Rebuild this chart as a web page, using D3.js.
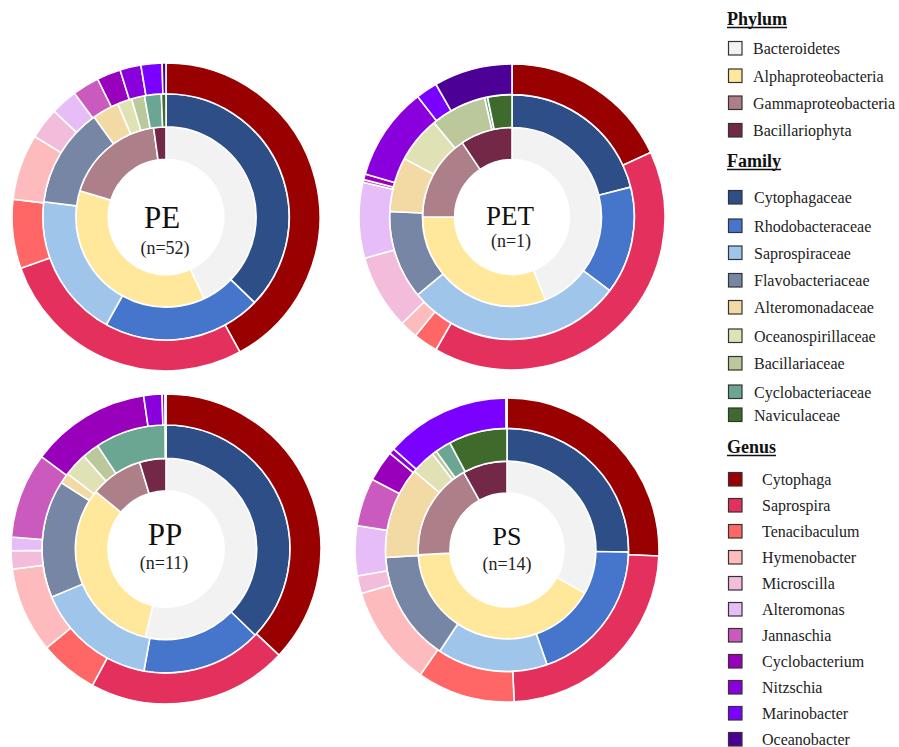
<!DOCTYPE html>
<html><head><meta charset="utf-8">
<script src="https://cdn.jsdelivr.net/npm/d3@7"></script>
<style>body{margin:0;background:#fff}svg{display:block}</style>
</head><body>
<svg id="chart" width="899" height="747"></svg>
<script>
// ---------- categories ----------
const phyla = ["Bacteroidetes","Alphaproteobacteria","Gammaproteobacteria","Bacillariophyta"];
const families = ["Cytophagaceae","Rhodobacteraceae","Saprospiraceae","Flavobacteriaceae","Alteromonadaceae","Oceanospirillaceae","Bacillariaceae","Cyclobacteriaceae","Naviculaceae"];
const genera = ["Cytophaga","Saprospira","Tenacibaculum","Hymenobacter","Microscilla","Alteromonas","Jannaschia","Cyclobacterium","Nitzschia","Marinobacter","Oceanobacter"];

const phylumColors = ["#F2F2F2","#FFE89C","#AC7F89","#722846"];
const familyColors = ["#2D4E87","#4675CC","#9FC5EA","#7686A4","#F3D9A4","#E0E2B6","#BAC89C","#6AA692","#3E6B2B"];
const genusColors = ["#990000","#E3305C","#FF6666","#FDBBBE","#F3BCDB","#E6BDF6","#CB5ABE","#9900BB","#8A00DD","#7A00FF","#4C0096"];

// ---------- samples ----------
const samples = ["PE","PET","PP","PS"];
const sampleSizes = ["(n=52)","(n=1)","(n=11)","(n=14)"];

// relative abundance (%)
const pePhylum = [43.1,36.7,18.1,2.2];
const peFamily = [37.2,20.8,18.9,13.1,3.5,1.9,1.7,2.2,0.6];
const peGenus  = [41.9,27.5,7.2,6.9,3.3,2.8,2.8,2.5,2.2,2.2,0.4];

const petPhylum = [43.9,31.1,15.6,9.4];
const petFamily = [21.1,14.2,28.8,11.7,7.2,6.1,7.4,0.4,3.2];
const petGenus  = [18.1,40.3,2.6,1.9,7.9,8.0,0.3,0.6,9.9,2.3,8.3];

const ppPhylum = [53.6,32.2,9.4,4.7];
const ppFamily = [37.2,15.6,15.8,15.3,1.4,3.1,2.2,9.2,0.1];
const ppGenus  = [36.9,20.8,6.1,8.9,1.9,1.4,8.9,12.5,1.9,0.3,0.1];

const psPhylum = [33.1,41.1,17.8,8.1];
const psFamily = [25.3,19.4,14.7,14.7,12.2,3.3,0.6,2.1,7.8];
const psGenus  = [25.6,23.6,10.4,10.7,1.9,5.3,5.1,3.3,0.6,13.3,0.1];

const sampleData = [
  [pePhylum, peFamily, peGenus],
  [petPhylum, petFamily, petGenus],
  [ppPhylum, ppFamily, ppGenus],
  [psPhylum, psFamily, psGenus]
];

// ---------- layout (positions / sizes) ----------
const layout = [
  {cx:166, cy:217, r:154, tSize:31, tdx:-4, tdy:11, ndx:-1, ndy:37},
  {cx:512, cy:217, r:153, tSize:27, tdx:-2, tdy:8,  ndx:-1, ndy:30},
  {cx:166, cy:549, r:155, tSize:31, tdx:-1, tdy:-4, ndx:-2, ndy:20},
  {cx:507, cy:550, r:152, tSize:26, tdx:0,  tdy:-5, ndx:0,  ndy:20}
];
const ringFr = [0.375, 0.585, 0.80, 1.0];
const serif = "'Liberation Serif','Times New Roman',serif";

const svg = d3.select("#chart");
const pie = d3.pie().sort(null).value(d => d);
const ringColors = [phylumColors, familyColors, genusColors];

samples.forEach((s, i) => {
  const L = layout[i];
  const g = svg.append("g").attr("transform", `translate(${L.cx},${L.cy})`);
  sampleData[i].forEach((vals, ring) => {
    const arc = d3.arc()
      .innerRadius(L.r * ringFr[ring])
      .outerRadius(L.r * ringFr[ring + 1]);
    g.append("g").selectAll("path")
      .data(pie(vals))
      .join("path")
      .attr("d", arc)
      .attr("fill", (d, k) => ringColors[ring][k])
      .attr("stroke", "#fff")
      .attr("stroke-width", 1.6)
      .attr("stroke-linejoin", "round");
  });
  g.append("text")
    .attr("x", L.tdx).attr("y", L.tdy)
    .attr("text-anchor", "middle")
    .attr("font-family", serif)
    .attr("font-size", L.tSize)
    .attr("fill", "#111")
    .text(s);
  g.append("text")
    .attr("x", L.ndx).attr("y", L.ndy)
    .attr("text-anchor", "middle")
    .attr("font-family", serif)
    .attr("font-size", 18)
    .attr("fill", "#222")
    .text(sampleSizes[i]);
});

// ---------- legend ----------
const legendGroups = [
  {title:"Phylum", titleY:25, items:phyla, colors:phylumColors, ys:[54,81.5,108.5,136], tx:753},
  {title:"Family", titleY:167, items:families, colors:familyColors, ys:[203,231.5,258.5,286,313,341.5,369,397.5,420.5], tx:754},
  {title:"Genus", titleY:453, items:genera, colors:genusColors, ys:[485,511,537,563,589,615,641,667,693,719,745], tx:762}
];
const leg = svg.append("g");
legendGroups.forEach(G => {
  const t = leg.append("text")
    .attr("x", 727).attr("y", G.titleY)
    .attr("font-family", serif)
    .attr("font-size", 18)
    .attr("font-weight", "bold")
    .attr("fill", "#111")
    .text(G.title);
  const w = t.node().getComputedTextLength();
  leg.append("line")
    .attr("x1", 727).attr("x2", 727 + w)
    .attr("y1", G.titleY + 2.5).attr("y2", G.titleY + 2.5)
    .attr("stroke", "#111").attr("stroke-width", 1.3);
  G.items.forEach((name, k) => {
    const y = G.ys[k];
    leg.append("rect")
      .attr("x", 728.5).attr("y", y - 12.5)
      .attr("width", 13.5).attr("height", 13.5)
      .attr("fill", G.colors[k])
      .attr("stroke", "#333").attr("stroke-width", 1.2);
    leg.append("text")
      .attr("x", G.tx).attr("y", y)
      .attr("font-family", serif)
      .attr("font-size", 16)
      .attr("fill", "#222")
      .text(name);
  });
});
</script>
</body></html>
